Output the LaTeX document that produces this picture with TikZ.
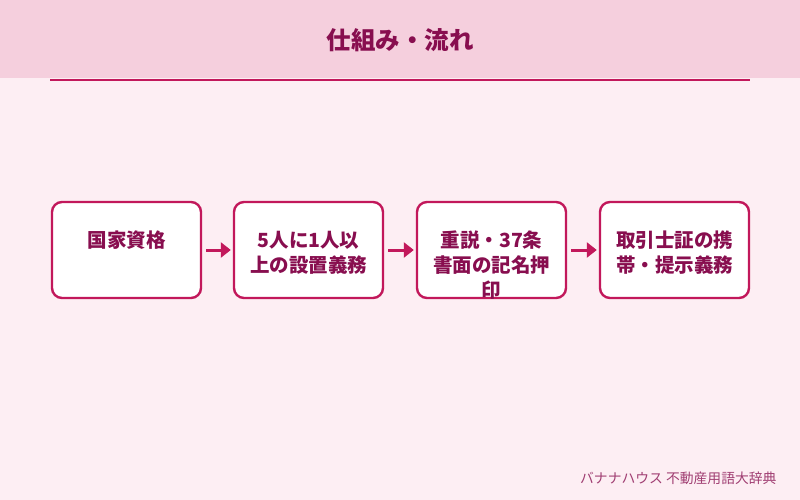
\documentclass[tikz,border=0pt]{standalone}
\usepackage{fontspec}
\newfontfamily\jp{Noto Sans CJK JP}
\usetikzlibrary{arrows.meta}
\definecolor{bg}{HTML}{FDEEF3}
\definecolor{hdr}{HTML}{F5CFDD}
\definecolor{acc}{HTML}{C2185B}
\definecolor{dark}{HTML}{880E4F}
\tikzset{
  stepbox/.style={draw=acc, line width=2.4pt, fill=white, rounded corners=10pt, minimum width=149pt, minimum height=96pt, inner sep=0pt},
  steptext/.style={text=dark, font=\jp\bfseries\fontsize{19.5pt}{25pt}\selectfont, align=center, anchor=north, inner sep=0pt},
  flowarrow/.style={draw=acc, line width=3pt, -{Triangle[length=10pt,width=15pt]}}
}
\begin{document}
\begin{tikzpicture}[x=1pt,y=-1pt]
\useasboundingbox (0,0) rectangle (800,500);
\fill[bg] (0,0) rectangle (800,500);
\fill[hdr] (0,0) rectangle (800,78);
\node[text=dark, font=\jp\bfseries\fontsize{24.5pt}{28pt}\selectfont] (title) at (400,40) {仕組み・流れ};
\coordinate (l1) at (50,80.5);
\coordinate (l2) at (750,80.5);
\draw[acc, line width=2pt] (l1) -- (l2);

\node[stepbox] (b1) at (126.5,250) {};
\node[stepbox] (b2) at (308.5,250) {};
\node[stepbox] (b3) at (491.5,250) {};
\node[stepbox] (b4) at (674.5,250) {};

\node[steptext] (t1) at (126.5,231) {国家資格};
\node[steptext] (t2) at (308.5,231) {5人に1人以\\上の設置義務};
\node[steptext] (t3) at (491.5,231) {重説・37条\\書面の記名押\\印};
\node[steptext] (t4) at (674.5,231) {取引士証の携\\帯・提示義務};

\draw[flowarrow] (b1.east) ++(4,0) coordinate (a1s) -- ([xshift=-2pt]b2.west);
\draw[flowarrow] (b2.east) ++(4,0) coordinate (a2s) -- ([xshift=-2pt]b3.west);
\draw[flowarrow] (b3.east) ++(4,0) coordinate (a3s) -- ([xshift=-2pt]b4.west);

\node[text=dark!80, font=\jp\fontsize{13.8pt}{15pt}\selectfont, anchor=east] (foot) at (780,478) {バナナハウス 不動産用語大辞典};
\end{tikzpicture}
\end{document}
